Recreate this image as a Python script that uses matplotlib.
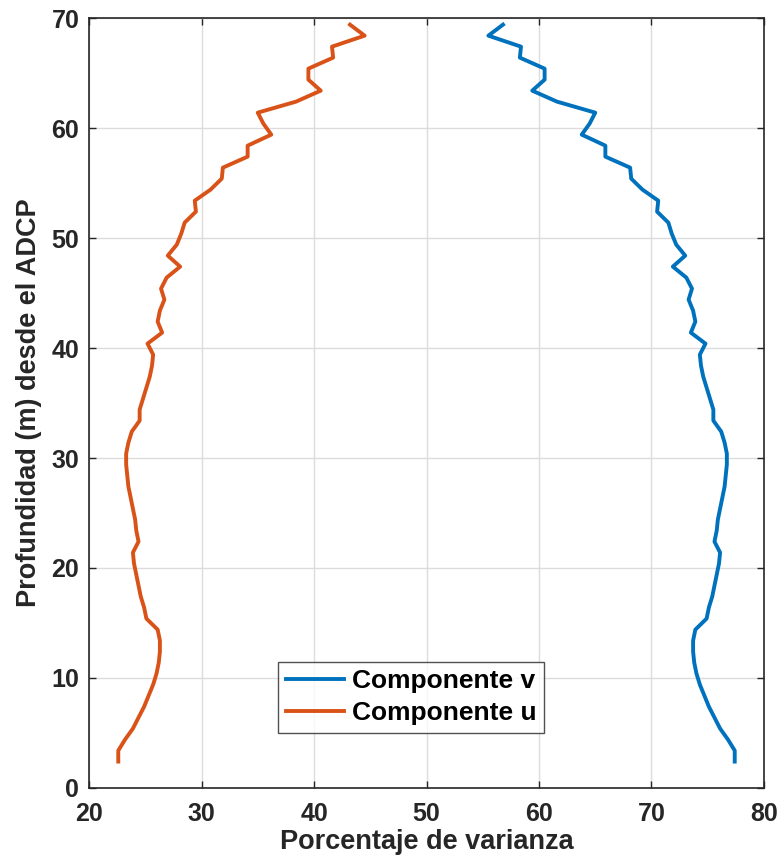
from matplotlib import pyplot as plt

#%% Data

# depth of each ADCP bin [m]
depth = [2.4, 3.4, 4.4, 5.4, 6.4, 7.4, 8.4, 9.4, 10.4, 11.4,
         12.4, 13.4, 14.4, 15.4, 16.4, 17.4, 18.4, 19.4, 20.4, 21.4,
         22.4, 23.4, 24.4, 25.4, 26.4, 27.4, 28.4, 29.4, 30.4, 31.4,
         32.4, 33.4, 34.4, 35.4, 36.4, 37.4, 38.4, 39.4, 40.4, 41.4,
         42.4, 43.4, 44.4, 45.4, 46.4, 47.4, 48.4, 49.4, 50.4, 51.4,
         52.4, 53.4, 54.4, 55.4, 56.4, 57.4, 58.4, 59.4, 60.4, 61.4,
         62.4, 63.4, 64.4, 65.4, 66.4, 67.4, 68.4, 69.4]

# variance percentage, v component
var_v = [77.4, 77.4, 76.8, 76.1, 75.6, 75.1, 74.7, 74.3, 74.0, 73.8,
         73.7, 73.7, 73.9, 74.9, 75.1, 75.4, 75.6, 75.8, 76.0, 76.1,
         75.6, 75.8, 75.9, 76.1, 76.3, 76.5, 76.6, 76.7, 76.7, 76.5,
         76.2, 75.5, 75.5, 75.2, 74.9, 74.6, 74.4, 74.3, 74.8, 73.5,
         73.9, 73.7, 73.3, 73.6, 73.1, 71.9, 73.0, 72.2, 71.8, 71.5,
         70.5, 70.6, 69.2, 68.2, 68.1, 65.9, 65.9, 63.8, 64.5, 65.0,
         61.6, 59.4, 60.5, 60.5, 58.3, 58.4, 55.5, 56.8]

# variance percentage, u component
var_u = [22.6, 22.6, 23.2, 23.9, 24.4, 24.9, 25.3, 25.7, 26.0, 26.2,
         26.3, 26.3, 26.1, 25.1, 24.9, 24.6, 24.4, 24.2, 24.0, 23.9,
         24.4, 24.2, 24.1, 23.9, 23.7, 23.5, 23.4, 23.3, 23.3, 23.5,
         23.8, 24.5, 24.5, 24.8, 25.1, 25.4, 25.6, 25.7, 25.2, 26.5,
         26.1, 26.3, 26.7, 26.4, 26.9, 28.1, 27.0, 27.8, 28.2, 28.5,
         29.5, 29.4, 30.8, 31.8, 31.9, 34.1, 34.1, 36.2, 35.5, 35.0,
         38.4, 40.6, 39.5, 39.5, 41.7, 41.6, 44.5, 43.2]

x_ticks = [20, 30, 40, 50, 60, 70, 80]
y_ticks = [0, 10, 20, 30, 40, 50, 60, 70]

#%% Figure (MATLAB-like look)
plt.rcParams['font.family'] = ['Liberation Sans', 'DejaVu Sans']
plt.rcParams['font.weight'] = 'bold'

fig = plt.figure(figsize=(7.83, 8.68), dpi=100)
ax = fig.add_axes([0.1137, 0.0922, 0.862, 0.887])

ax.plot(var_v, depth, color='#0072BD', lw=2.8, label='Componente v')
ax.plot(var_u, depth, color='#D95319', lw=2.8, label='Componente u')

ax.set_xlim(20, 80)
ax.set_ylim(0, 70)
ax.set_xticks(x_ticks)
ax.set_yticks(y_ticks)
ax.grid(True, color='#dcdcdc', lw=1.0)
ax.set_axisbelow(True)
ax.tick_params(direction='in', length=5, width=1.0, colors='#262626',
               labelsize=18, top=True, right=True)
ax.tick_params(axis='x', pad=10)
ax.tick_params(axis='y', pad=7)
for s in ax.spines.values():
    s.set_color('#262626')
    s.set_linewidth(1.2)

ax.set_xlabel('Porcentaje de varianza', fontsize=19.5, fontweight='bold',
              color='#262626', labelpad=2)
ax.set_ylabel('Profundidad (m) desde el ADCP', fontsize=19.5, fontweight='bold',
              color='#262626', labelpad=7)

leg = ax.legend(loc='lower left', bbox_to_anchor=(0.28, 0.071), fontsize=19,
                frameon=True, fancybox=False, handlelength=2.2,
                handletextpad=0.3, borderpad=0.3, labelspacing=0.3,
                borderaxespad=0)
leg.get_frame().set_edgecolor('#262626')
leg.get_frame().set_linewidth(1.0)

plt.savefig('out.png', dpi=100)
